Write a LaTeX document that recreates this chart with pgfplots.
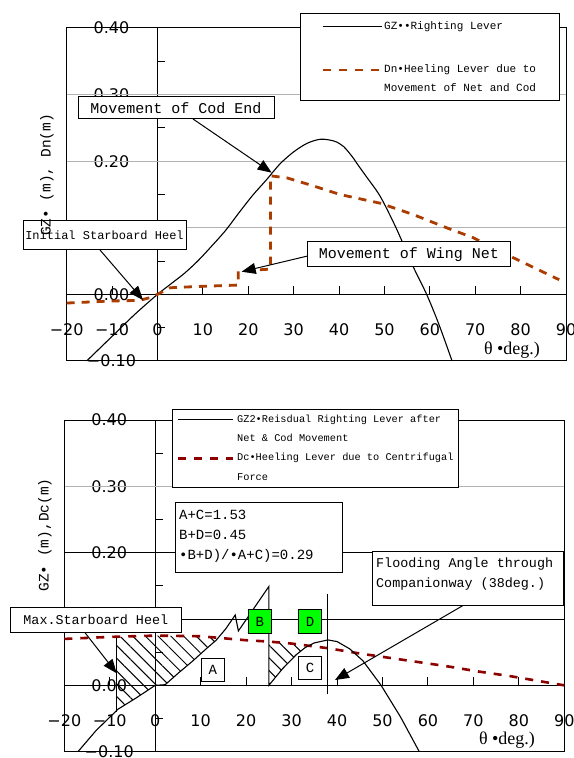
\documentclass[border=0pt]{standalone}
\usepackage{fontspec}
\setmainfont{Liberation Serif}
\newfontfamily\tickfont{DejaVu Sans}
\newfontfamily\boxfont{Liberation Mono}
\usepackage{pgfplots}
\pgfplotsset{compat=1.18}
\usetikzlibrary{arrows.meta,patterns.meta}
\definecolor{dnbrown}{RGB}{170,60,0}
\definecolor{dcred}{RGB}{140,0,0}
\definecolor{boxgreen}{RGB}{0,255,0}
\pgfplotsset{
  stab/.style={
    scale only axis, anchor=south west,
    xmin=-20,xmax=90,ymin=-0.1,ymax=0.4,
    enlargelimits=false,
    axis lines=middle,
    axis line style={-, line width=1bp, black},
    hide obscured x ticks=false, hide obscured y ticks=false,
    xtick={-20,-10,...,90},
    xticklabels={−20,−10,0,10,20,30,40,50,60,70,80,90},
    ytick={-0.1,0,0.1,0.2,0.3,0.4},
    yticklabels={−0.10,0.00,0.10,0.20,0.30,0.40},
    minor ytick={-0.05,0.05,0.15,0.25,0.35},
    tick align=inside,
    major tick length=8bp, minor tick length=8bp,
    tick style={line width=1bp, black},
    ticklabel style={font=\tickfont\fontsize{16bp}{18bp}\selectfont, anchor=center, inner sep=0pt},
    xticklabel style={yshift=-35bp},
    yticklabel style={xshift=-46bp},
    clip=false,
  }
}
\tikzset{
  bx/.style={draw, line width=1bp, fill=white},
  arr/.style={line width=1bp, -{Triangle[length=14bp,width=11bp]}},
}
\newcommand{\bxf}[1]{\boxfont\fontsize{#1}{#1}\selectfont}
\begin{document}
\begin{tikzpicture}
\useasboundingbox (0,0) rectangle (574bp,758bp);
% ---------------- top panel ----------------
\begin{axis}[stab, at={(66.7bp,397bp)}, width=499.3bp, height=333bp]
\draw[gray!60, line width=1bp] (axis cs:-20,0.1) -- (axis cs:90,0.1);
\draw[gray!60, line width=1bp] (axis cs:-20,0.2) -- (axis cs:90,0.2);
\draw[gray!60, line width=1bp] (axis cs:-20,0.3) -- (axis cs:90,0.3);
\draw[line width=1bp] (rel axis cs:0,0) rectangle (rel axis cs:1,1);
\addplot[black, line width=1.1bp, smooth] coordinates {
(-15.6,-0.100) (-10,-0.063) (-5,-0.030) (0,0) (3,0.016) (6,0.032) (9,0.051)
(12,0.073) (15,0.096) (18,0.123) (21,0.149) (24,0.172) (27,0.196) (30,0.214)
(33,0.227) (36,0.233) (39,0.230) (41,0.222) (43,0.206) (44,0.196) (46,0.177)
(49,0.148) (52,0.108) (54,0.078) (56.3,0.042) (59.3,0.000) (62,-0.045) (64.9,-0.100)};
\addplot[dnbrown, line width=2.8bp, dash pattern=on 8bp off 7bp] coordinates {
(-20,-0.013) (-10.5,-0.010) (-4,-0.009) (-1.7,-0.005) (0,0) (2.8,0.010) (9.4,0.012)
(17.8,0.014) (17.8,0.035) (24.9,0.038) (24.9,0.178) (28.5,0.175) (34.3,0.163)
(40.2,0.150) (49,0.137) (56.3,0.120) (63.7,0.100) (69.6,0.085) (78.4,0.055) (88.5,0.022)};
\end{axis}
% ---------------- bottom panel ----------------
\begin{axis}[stab, at={(64.3bp,6.3bp)}, width=500bp, height=331.7bp]
\draw[black, line width=1bp] (axis cs:-20,0.1) -- (axis cs:90,0.1);
\draw[black, line width=1bp] (axis cs:-20,0.2) -- (axis cs:90,0.2);
\draw[gray!60, line width=1bp] (axis cs:-20,0.3) -- (axis cs:90,0.3);
\draw[line width=1bp] (rel axis cs:0,0) rectangle (rel axis cs:1,1);
% hatched areas A and C
\addplot[pattern={Lines[angle=-45,distance=9bp,line width=1bp]}, draw=none] coordinates {
(-8.6,0.073) (0,0.075) (10,0.074) (13.85,0.071) (13.4,0.068) (11.2,0.055) (8.3,0.037)
(5,0.018) (2.2,0.001) (0,0) (-4.2,-0.019) (-8.2,-0.036) (-8.6,-0.038)} -- cycle;
\addplot[pattern={Lines[angle=-45,distance=9bp,line width=1bp]}, draw=none] coordinates {
(25,0.066) (30,0.063) (33.8,0.060) (33,0.057) (31,0.046) (28,0.025) (25,0.0)} -- cycle;
\addplot[dcred, line width=2.6bp, dash pattern=on 8bp off 8bp] coordinates {
(-20,0.070) (-10,0.073) (0,0.075) (10,0.074) (15,0.071) (20,0.068) (25,0.066)
(30,0.063) (38,0.056) (45,0.048) (50,0.043) (57,0.036) (64,0.029) (71,0.021)
(78,0.014) (84,0.007) (90,0.000)};
\addplot[black, line width=1.1bp] coordinates {
(-17,-0.100) (-13,-0.068) (-8.2,-0.036) (-4.2,-0.019) (0,0) (2.2,0.001) (5,0.018)
(8.3,0.037) (11.2,0.055) (13.4,0.068) (15.5,0.085) (17.6,0.106) (18.3,0.082)
(25,0.149) (25,0.000) (28,0.025) (31,0.046) (33,0.057) (35,0.064) (38,0.0685)
(40,0.066) (42.8,0.055) (45.7,0.037) (49.7,0.000) (54,-0.048) (58.1,-0.100)};
\addplot[black, line width=1bp] coordinates {(-8.6,0.072) (-8.6,-0.040)};
\addplot[black, line width=1bp] coordinates {(38,0.137) (38,-0.013)};
\end{axis}
% ---------------- annotations (pixel coords) ----------------
\begin{scope}[x=1bp, y=-1bp, yshift=758bp]
% top legend
\draw[bx] (300,14) rectangle (559,101);
\draw[line width=1bp] (322.7,27) -- (381.7,27);
\node[anchor=west, inner sep=0] at (384,27) {\bxf{11bp}GZ••Righting Lever};
\draw[dnbrown, line width=2.8bp, dash pattern=on 8bp off 8bp] (322.7,70) -- (381.7,70);
\node[anchor=west, inner sep=0] at (384,70) {\bxf{11bp}Dn•Heeling Lever due to};
\node[anchor=west, inner sep=0] at (384,88) {\bxf{11bp}Movement of Net and Cod};
% top callouts
\draw[arr] (193,119) -- (271.7,172.7);
\draw[bx] (78,97) rectangle (274,119);
\node at (176,108) {\bxf{15bp}Movement of Cod End};
\draw[arr] (100,250) -- (143,300);
\draw[bx] (23,221) rectangle (186,250);
\node at (104.5,235.5) {\bxf{12bp}Initial Starboard Heel};
\draw[arr] (307.7,256) -- (241.7,271.7);
\draw[bx] (307.7,242) rectangle (510,267);
\node at (409,254.5) {\bxf{15bp}Movement of Wing Net};
\node at (512,350) {\fontsize{18bp}{18bp}\selectfont θ\ •deg.)};
\node[rotate=90] at (47,175) {\bxf{14.5bp}GZ• (m), Dn(m)};
% bottom legend
\draw[bx] (172.3,409.3) rectangle (458.3,487.3);
\draw[line width=1bp] (178,420) -- (233,420);
\node[anchor=west, inner sep=0] at (237,420) {\bxf{10.3bp}GZ2•Reisdual Righting Lever after};
\node[anchor=west, inner sep=0] at (237,438.3) {\bxf{10.3bp}Net \& Cod Movement};
\draw[dcred, line width=2.6bp, dash pattern=on 8bp off 8bp] (178,458.3) -- (233,458.3);
\node[anchor=west, inner sep=0] at (237,458.3) {\bxf{10.3bp}Dc•Heeling Lever due to Centrifugal};
\node[anchor=west, inner sep=0] at (237,476.7) {\bxf{10.3bp}Force};
% stats box
\draw[bx] (175.7,502.3) rectangle (342.7,572.3);
\node[anchor=west, inner sep=0] at (179,515) {\bxf{14bp}A+C=1.53};
\node[anchor=west, inner sep=0] at (179,535) {\bxf{14bp}B+D=0.45};
\node[anchor=west, inner sep=0] at (179,555.7) {\bxf{14bp}•B+D)/•A+C)=0.29};
% flooding
\draw[arr] (462.7,605.7) -- (335,680);
\draw[bx] (372.7,551.7) rectangle (563.3,605.7);
\node[anchor=west, inner sep=0] at (376,564.3) {\bxf{13.4bp}Flooding Angle through};
\node[anchor=west, inner sep=0] at (376,584.3) {\bxf{13.4bp}Companionway (38deg.)};
% max starboard
\draw[arr] (85,632.7) -- (116.7,673.3);
\draw[bx] (10,607.7) rectangle (181.7,632.7);
\node at (95.8,620.2) {\bxf{13.4bp}Max.Starboard Heel};
% area labels
\draw[bx] (201.7,659) rectangle (224,681.7); \node at (212.8,670.3) {\bxf{14bp}A};
\draw[bx, fill=boxgreen] (248.3,610) rectangle (271,633.3); \node at (259.7,621.7) {\bxf{14bp}B};
\draw[bx, fill=boxgreen] (298.3,610) rectangle (321.7,633.3); \node at (310,621.7) {\bxf{14bp}D};
\draw[bx] (298.3,656.7) rectangle (321.7,680); \node at (310,668.3) {\bxf{14bp}C};
\node at (507,740) {\fontsize{18bp}{18bp}\selectfont θ\ •deg.)};
\node[rotate=90] at (45,535) {\bxf{14.5bp}GZ• (m),Dc(m)};
\end{scope}
\end{tikzpicture}
\end{document}
